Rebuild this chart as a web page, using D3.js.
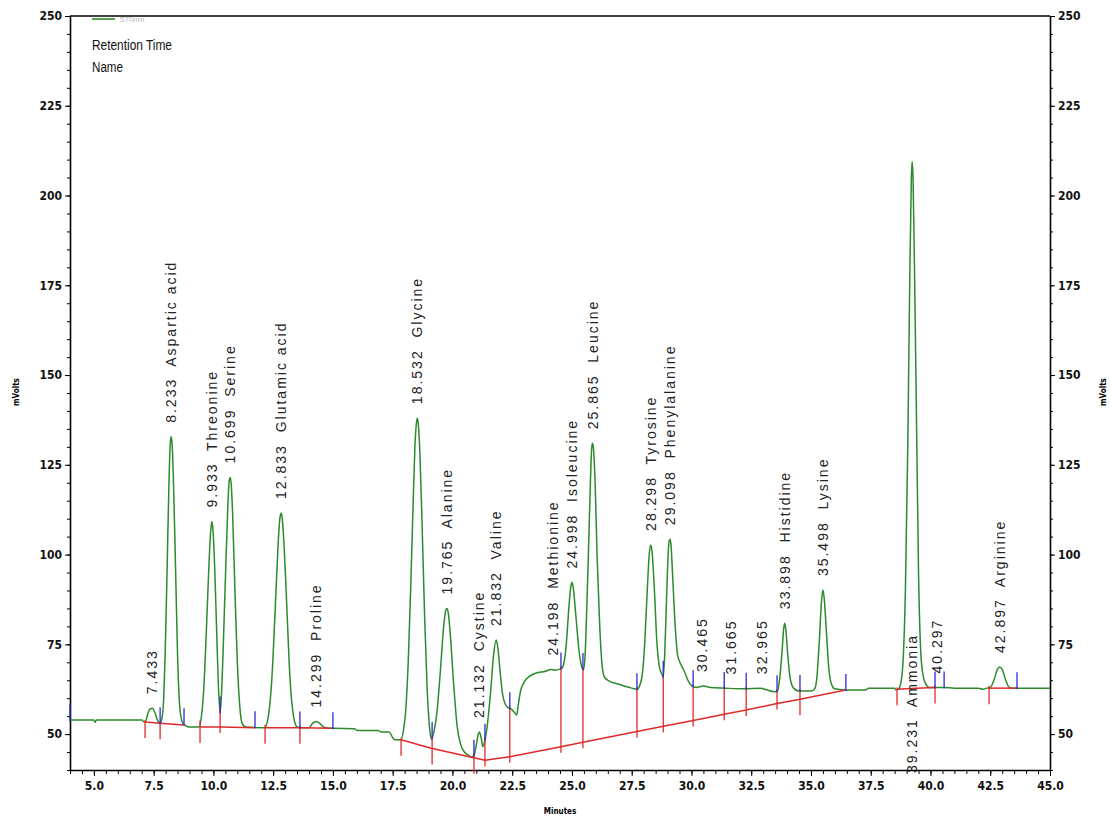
<!DOCTYPE html>
<html lang="en">
<head>
<meta charset="utf-8">
<title>Amino acid chromatogram</title>
<script src="https://d3js.org/d3.v7.min.js"></script>
<style>
  html, body { margin: 0; padding: 0; background: #fff; }
  svg { display: block; }
  .tick text { font-family: "Liberation Sans Narrow", "DejaVu Sans Condensed", "Liberation Sans", sans-serif; font-weight: bold; font-size: 12px; fill: #111; }
  .peak-label { font-family: "Liberation Sans", Arial, sans-serif; font-size: 14px; letter-spacing: 2px; fill: #222; white-space: pre; }
</style>
</head>
<body>
<script>
// retention time (minutes) and detector signal (mVolts)
var traceMinutes = [
  4.0, 5.0, 5.05, 5.1, 7.0, 7.1,
  7.15, 7.25, 7.35, 7.45, 7.55, 7.68, 7.77,
  7.85, 7.92, 7.98, 8.06, 8.14, 8.2, 8.233, 8.27, 8.33, 8.42, 8.5, 8.6, 8.72, 8.85,
  9.0, 9.4, 9.5, 9.6, 9.7, 9.8, 9.88, 9.933, 9.98, 10.05, 10.13, 10.2, 10.28,
  10.33, 10.4, 10.5, 10.6, 10.66, 10.699, 10.74, 10.8, 10.9, 11.0, 11.1, 11.2, 11.35,
  12.15, 12.3, 12.45, 12.58, 12.7, 12.78, 12.833, 12.88, 12.96, 13.08, 13.2, 13.35, 13.5, 13.65,
  14.0, 14.15, 14.3, 14.45, 14.6, 14.75,
  15.0, 15.9, 16.0, 16.9, 17.0, 17.35, 17.5, 17.6, 17.85,
  17.95, 18.05, 18.15, 18.25, 18.35, 18.43, 18.5, 18.532, 18.57, 18.64, 18.74, 18.84, 18.94, 19.04, 19.13,
  19.2, 19.35, 19.5, 19.62, 19.72, 19.765, 19.82, 19.92, 20.05, 20.2, 20.35, 20.5, 20.65, 20.8,
  20.9, 21.0, 21.08, 21.132, 21.2, 21.27,
  21.35, 21.45, 21.6, 21.72, 21.832, 21.9, 22.0, 22.1, 22.2, 22.3, 22.45, 22.6, 22.69,
  22.75, 22.85, 23.0, 23.2, 23.5, 23.9, 24.1, 24.3, 24.5,
  24.6, 24.75, 24.88, 24.95, 24.998, 25.05, 25.15, 25.3, 25.42, 25.48,
  25.55, 25.62, 25.7, 25.78, 25.83, 25.865, 25.9, 25.97, 26.05, 26.15, 26.25, 26.35, 26.5, 27.0, 27.5, 27.72,
  27.8, 27.95, 28.05, 28.15, 28.24, 28.298, 28.35, 28.45, 28.55, 28.65, 28.74, 28.82,
  28.88, 28.95, 29.01, 29.06, 29.098, 29.14, 29.22, 29.32, 29.42, 29.55, 29.7, 29.85, 30.0,
  30.2, 30.5, 30.8, 31.4, 32.2, 32.9, 33.1, 33.5,
  33.6, 33.7, 33.8, 33.86, 33.898, 33.95, 34.03, 34.12, 34.25, 34.5, 35.0,
  35.15, 35.25, 35.35, 35.44, 35.498, 35.55, 35.65, 35.75, 35.88, 36.0, 36.4, 37.3, 37.4, 38.5, 38.55, 38.65,
  38.75, 38.85, 38.95, 39.05, 39.13, 39.2, 39.231, 39.27, 39.33, 39.42, 39.5, 39.6, 39.7, 39.8, 39.95,
  40.2, 40.6, 41.0, 42.0, 42.2, 42.35,
  42.5, 42.65, 42.8, 42.897, 43.0, 43.15, 43.3, 43.45, 45.0
];
var traceMv = [
  53.9, 53.9, 53.3, 53.9, 53.9, 53.4,
  53.4, 55.5, 57.0, 57.2, 56.0, 53.6, 53.0,
  54.5, 60, 72, 95, 120, 131.5, 132.8, 131, 120, 95, 72, 57, 53, 52.3,
  52.0, 52.0, 55, 63, 78, 95, 106, 109.2, 107, 97, 80, 65, 56,
  60, 72, 93, 113, 120.5, 121.5, 120, 112, 90, 70, 58, 53, 52,
  51.8, 55, 66, 84, 102, 110, 111.6, 110, 102, 84, 66, 55, 52, 51.8,
  51.8, 53.0, 53.5, 53.0, 52.0, 51.7,
  51.6, 51.5, 51.0, 51.0, 50.6, 50.6, 49.0, 48.4, 48.4,
  51, 57, 70, 90, 113, 130, 137, 138, 136.5, 128, 106, 82, 63, 52, 48.5,
  50, 56, 68, 79, 84.5, 85, 84, 77, 64, 52, 47, 45, 44.2, 43.6,
  44, 47, 50, 50.6, 49, 46.5,
  48, 52, 62, 72, 76.2, 74, 67, 61, 58.5, 57.5, 57, 56, 55.3,
  58, 62, 64.5, 66, 67, 67.5, 68, 67.8, 68.1,
  68.5, 74, 86, 91, 92.2, 91, 84, 73, 68.5, 67.9,
  72, 85, 103, 122, 130, 131, 129.5, 120, 100, 82, 70, 66, 65, 63.8, 62.8, 62.5,
  63, 67, 76, 90, 100.5, 102.7, 101, 90, 76, 69, 67, 66,
  72, 86, 98, 103.5, 104.3, 103, 93, 80, 72, 69.5, 67.5, 65, 63.5,
  63, 63.4, 63, 62.8, 62.6, 62.8, 62.4, 61.8,
  62, 66, 74, 79.5, 80.9, 79, 72, 66, 63, 62, 62,
  62.5, 66, 76, 87, 90.1, 88, 78, 68, 63.5, 62.6, 62.3, 62.3, 62.8, 62.8, 62.3, 62.5,
  64, 70, 90, 130, 175, 205, 209.5, 205, 180, 135, 95, 72, 66, 64, 63,
  63, 63, 62.8, 62.8, 62.5, 62.8,
  63, 65, 68, 68.7, 68, 65, 63, 62.8, 62.8
];

// integration baselines drawn by the software (minutes, mVolts)
var baselineSegments = [
  [[7.14, 53.4], [7.77, 53.0], [8.77, 52.5]],
  [[9.44, 52.0], [10.28, 52.0], [11.74, 51.8]],
  [[12.16, 51.8], [13.62, 51.8], [15.0, 51.6]],
  [[17.85, 48.4], [19.15, 46.0], [20.9, 43.4], [21.36, 42.7], [22.4, 43.7], [24.54, 46.5], [25.46, 47.7],
   [27.72, 50.7], [28.82, 52.2], [30.07, 53.8], [31.37, 55.5], [32.29, 56.7], [33.58, 58.5], [34.54, 59.7], [36.46, 62.3]],
  [[38.6, 62.5], [39.4, 62.8], [40.19, 63.0]],
  [[42.45, 62.8], [43.62, 62.8]]
];
var peakStartMarks = [7.14, 7.77, 9.44, 10.28, 12.16, 13.62, 17.85, 19.15, 20.9, 21.36, 22.4, 24.54, 25.46,
  27.72, 28.82, 30.07, 31.37, 32.29, 33.58, 34.54, 38.6, 40.19, 42.45];
var peakEndMarks = [4.0, 7.77, 8.77, 10.28, 11.74, 13.62, 15.0, 19.15, 20.9, 21.36, 22.4, 24.54, 25.46,
  27.72, 28.82, 30.07, 31.37, 32.29, 33.58, 34.54, 36.46, 40.19, 40.57, 43.62];

// peak labels: retention time and compound name
var peakTimes = [7.433, 8.233, 9.933, 10.699, 12.833, 14.299, 18.532, 19.765, 21.132, 21.832, 24.198, 24.998,
  25.865, 28.298, 29.098, 30.465, 31.665, 32.965, 33.898, 35.498, 39.231, 40.297, 42.897];
var peakNames = ["", "Aspartic acid", "Threonine", "Serine", "Glutamic acid", "Proline", "Glycine", "Alanine",
  "Cystine", "Valine", "Methionine", "Isoleucine", "Leucine", "Tyrosine", "Phenylalanine", "", "", "",
  "Histidine", "Lysine", "Ammonia", "", "Arginine"];

var xTickValues = [5, 7.5, 10, 12.5, 15, 17.5, 20, 22.5, 25, 27.5, 30, 32.5, 35, 37.5, 40, 42.5, 45];
var yTickValues = [50, 75, 100, 125, 150, 175, 200, 225, 250];

var W = 1110, H = 818;
var plotLeft = 70, plotRight = 1050, plotTop = 16, plotBottom = 770;

var svg = d3.select("body").append("svg")
    .attr("width", W)
    .attr("height", H);
svg.append("rect").attr("width", W).attr("height", H).attr("fill", "#fff");

var x = d3.scaleLinear().domain([4, 45]).range([plotLeft, plotRight]);
var y = d3.scaleLinear().domain([40, 250]).range([plotBottom, plotTop]);

var trace = traceMinutes.map(function(t, i){ return [t, traceMv[i]]; });

function signalAt(t){
  var i = d3.bisector(function(d){ return d[0]; }).left(trace, t);
  if(i <= 0) return trace[0][1];
  if(i >= trace.length) return trace[trace.length - 1][1];
  var a = trace[i - 1], b = trace[i];
  return a[1] + (b[1] - a[1]) * (t - a[0]) / (b[0] - a[0]);
}
function baselineAt(t){
  for(var s = 0; s < baselineSegments.length; s++){
    var seg = baselineSegments[s];
    if(t >= seg[0][0] - 0.001 && t <= seg[seg.length - 1][0] + 0.001){
      for(var k = 1; k < seg.length; k++){
        if(t <= seg[k][0] + 0.001){
          var a = seg[k - 1], b = seg[k];
          return a[1] + (b[1] - a[1]) * (t - a[0]) / (b[0] - a[0]);
        }
      }
    }
  }
  return signalAt(t);
}

// axes
var minorX = d3.range(4, 45.01, 0.5);
var minorY = d3.range(40, 250.01, 5);

svg.append("g").attr("transform", "translate(0," + plotBottom + ")")
  .call(d3.axisBottom(x).tickValues(minorX).tickSize(4).tickFormat(""))
  .call(function(g){ g.select(".domain").remove(); });
svg.append("g").attr("transform", "translate(0," + plotBottom + ")")
  .call(d3.axisBottom(x).tickValues(xTickValues).tickSize(6).tickSizeOuter(0).tickFormat(d3.format(".1f")))
  .call(function(g){ g.select(".domain").attr("stroke-width", 1.6); g.selectAll(".tick text").attr("dy", "0.9em"); });

[[plotLeft, d3.axisLeft], [plotRight, d3.axisRight]].forEach(function(s){
  svg.append("g").attr("transform", "translate(" + s[0] + ",0)")
    .call(s[1](y).tickValues(minorY).tickSize(3).tickFormat(""))
    .call(function(g){ g.select(".domain").remove(); });
  svg.append("g").attr("transform", "translate(" + s[0] + ",0)")
    .call(s[1](y).tickValues(yTickValues).tickSize(5).tickSizeOuter(0).tickFormat(d3.format("d")))
    .call(function(g){ g.select(".domain").attr("stroke-width", 1.6); });
});
svg.append("line").attr("x1", plotLeft).attr("x2", plotRight).attr("y1", plotTop).attr("y2", plotTop)
  .attr("stroke", "#000").attr("stroke-width", 1.6);

// axis titles
var smallFont = "bold 8px 'Liberation Sans Narrow', 'DejaVu Sans Condensed', sans-serif";
svg.append("text").attr("transform", "translate(19,392) rotate(-90)")
  .attr("text-anchor", "middle").style("font", smallFont).text("mVolts");
svg.append("text").attr("transform", "translate(1106,392) rotate(-90)")
  .attr("text-anchor", "middle").style("font", smallFont).text("mVolts");
svg.append("text").attr("x", 560).attr("y", 814)
  .attr("text-anchor", "middle").style("font", smallFont).text("Minutes");

// legend
svg.append("line").attr("x1", 92).attr("x2", 115).attr("y1", 19).attr("y2", 19)
  .attr("stroke", "#2d8a2d").attr("stroke-width", 1.6);
svg.append("text").attr("x", 120).attr("y", 22).attr("fill", "#bbb")
  .style("font", "8px 'Liberation Sans', sans-serif").text("570nm");
svg.append("text").attr("x", 92).attr("y", 50)
  .style("font", "14px 'Liberation Sans', sans-serif").attr("fill", "#111")
  .attr("textLength", 80).attr("lengthAdjust", "spacingAndGlyphs")
  .text("Retention Time");
svg.append("text").attr("x", 92).attr("y", 72)
  .style("font", "14px 'Liberation Sans', sans-serif").attr("fill", "#111")
  .attr("textLength", 31).attr("lengthAdjust", "spacingAndGlyphs")
  .text("Name");

// chromatogram trace
var line = d3.line()
  .x(function(d){ return x(d[0]); })
  .y(function(d){ return y(d[1]); })
  .curve(d3.curveMonotoneX);

svg.append("path").datum(trace)
  .attr("d", line)
  .attr("fill", "none")
  .attr("stroke", "#2d8a2d")
  .attr("stroke-width", 1.5);

// integration baselines
var straight = d3.line().x(function(d){ return x(d[0]); }).y(function(d){ return y(d[1]); });
svg.selectAll("path.base").data(baselineSegments).enter().append("path")
  .attr("class", "base")
  .attr("d", straight)
  .attr("fill", "none")
  .attr("stroke", "#e02a2a")
  .attr("stroke-width", 1.5);

svg.selectAll("line.start").data(peakStartMarks).enter().append("line")
  .attr("class", "start")
  .attr("x1", function(d){ return x(d); })
  .attr("x2", function(d){ return x(d); })
  .attr("y1", function(d){ return y(signalAt(d)) - 2; })
  .attr("y2", function(d){
    var gap = signalAt(d) - baselineAt(d);
    return y(baselineAt(d)) + (gap > 3 ? 6 : 16);
  })
  .attr("stroke", "#e02a2a")
  .attr("stroke-width", 1.3);

svg.selectAll("line.end").data(peakEndMarks).enter().append("line")
  .attr("class", "end")
  .attr("x1", function(d){ return x(d); })
  .attr("x2", function(d){ return x(d); })
  .attr("y1", function(d){ return y(signalAt(d)) + 1; })
  .attr("y2", function(d){ return y(signalAt(d)) - 16; })
  .attr("stroke", "#2b2bd0")
  .attr("stroke-width", 1.3);

// peak labels
svg.selectAll("text.peak-label").data(peakTimes).enter().append("text")
  .attr("class", "peak-label")
  .attr("transform", function(d, i){
    var near = trace.filter(function(p){ return Math.abs(p[0] - d) < 0.12; }).map(function(p){ return p[1]; });
    near.push(signalAt(d));
    var yy = peakNames[i] === "Ammonia" ? plotBottom + 3 : y(d3.max(near)) - 14;
    return "translate(" + x(d) + "," + yy + ") rotate(-90)";
  })
  .attr("dy", "0.35em")
  .text(function(d, i){ return d3.format(".3f")(d) + (peakNames[i] ? "  " + peakNames[i] : ""); });
</script>
</body>
</html>
